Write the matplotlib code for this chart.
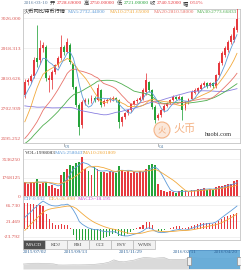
import matplotlib
matplotlib.use('Agg')
import matplotlib.pyplot as plt
import matplotlib.transforms as mtransforms
from matplotlib.patches import Rectangle, Ellipse
import numpy as np
import pandas as pd

# daily candles, 2016-02-17 .. 2016-04-27
opens = [2750, 2796, 2800, 2818, 2882, 2875, 2918, 2922, 2804, 2804,
         2832, 2857, 2882, 2922, 2904, 2929, 2861, 2778, 2714, 2642,
         2724, 2732, 2728.69, 2740, 2732, 2768, 2717, 2728, 2732, 2735,
         2739, 2732, 2653, 2670, 2685, 2696, 2717, 2728, 2732, 2735,
         2760, 2796, 2768, 2707, 2667, 2678, 2696, 2710, 2721, 2732,
         2742, 2735, 2742, 2703, 2724, 2735, 2757, 2764, 2771, 2786,
         2793, 2782, 2793, 2782, 2821, 2864, 2893, 2911, 2940, 2947, 2983]
highs = [2808, 2812, 2825, 2885, 3000, 2947, 2940, 2930, 2820, 2838,
         2862, 2890, 2965, 2930, 2955, 2935, 2865, 2782, 2720, 2730,
         2740, 2738, 2750, 2746, 2790, 2772, 2735, 2738, 2742, 2745,
         2744, 2736, 2676, 2690, 2700, 2722, 2733, 2738, 2745, 2775,
         2828, 2800, 2772, 2712, 2684, 2700, 2716, 2726, 2737, 2748,
         2747, 2748, 2746, 2728, 2740, 2766, 2774, 2780, 2792, 2800,
         2798, 2798, 2797, 2826, 2870, 2906, 2925, 2948, 2968, 2997, 3062]
lows = [2738, 2785, 2792, 2812, 2850, 2862, 2905, 2800, 2760, 2770,
        2825, 2850, 2875, 2895, 2900, 2860, 2770, 2705, 2606, 2630,
        2715, 2718, 2721, 2725, 2728, 2705, 2710, 2722, 2726, 2728,
        2725, 2631, 2640, 2662, 2678, 2690, 2712, 2722, 2727, 2730,
        2750, 2760, 2700, 2649, 2660, 2672, 2690, 2705, 2716, 2727,
        2730, 2730, 2660, 2695, 2718, 2730, 2752, 2758, 2766, 2780,
        2776, 2777, 2776, 2776, 2815, 2858, 2886, 2904, 2933, 2940, 2975]
closes = [2796, 2804, 2818, 2875, 2868, 2918, 2929, 2811, 2811, 2832,
          2857, 2882, 2922, 2904, 2940, 2868, 2778, 2714, 2635, 2724,
          2732, 2725, 2740.52, 2732, 2775, 2714, 2728, 2732, 2735, 2739,
          2732, 2653, 2670, 2685, 2696, 2717, 2728, 2732, 2739, 2768,
          2803, 2768, 2707, 2660, 2678, 2696, 2710, 2721, 2732, 2742,
          2735, 2742, 2696, 2724, 2735, 2760, 2768, 2774, 2786, 2793,
          2782, 2793, 2782, 2821, 2864, 2900, 2918, 2940, 2961, 2990, 3022]
volumes = [1300000, 1200000, 1350000, 1300000, 1600000, 1200000, 1250000, 1350000, 1000000, 1100000,
           750000, 650000, 2000000, 2300000, 2600000, 3000000, 2900000, 3200000, 3300000, 3750000,
           2600000, 2400000, 1998083, 2800000, 2550000, 2300000, 2350000, 2200000, 2450000, 2300000,
           2250000, 2900000, 2500000, 2300000, 2400000, 2200000, 2350000, 2250000, 2450000, 2300000,
           2600000, 3000000, 3100000, 2950000, 1200000, 550000, 450000, 350000, 500000, 400000,
           300000, 450000, 600000, 500000, 400000, 550000, 600000, 700000, 650000, 800000,
           550000, 700000, 600000, 850000, 1000000, 950000, 1100000, 1200000, 1150000, 1400000, 1550000]
# closes of the 60 days before the first candle, only used for the moving averages
pre_closes = [2880, 2900, 2870, 2930, 2950, 2920, 2890, 2860, 2900, 2880,
              2850, 2870, 2900, 2910, 2880, 2860, 2890, 2920, 2900, 2880,
              2870, 2850, 2860, 2880, 2870, 2850, 2820, 2720, 2600, 2560,
              2540, 2560, 2530, 2500, 2520, 2560, 2580, 2550, 2530, 2520,
              2540, 2550, 2530, 2560, 2540, 2510, 2500, 2520, 2550, 2545,
              2530, 2540, 2545, 2530, 2545, 2650, 2700, 2720, 2740, 2770]

month_pos = [13, 44]
month_labels = ['03', '04']
price_ticks = [2595.252, 2702.939, 2810.626, 2918.313, 3026.000]
vol_ticks = [0, 1768125, 3536250]
macd_ticks = [-23.792, 21.469, 66.730]
tab_names = ['MACD', 'KDJ', 'RSI', 'CCI', 'PSY', 'WMS']

# navigator: weekly closes 2015-07-02 .. 2016-04-28
nav_close = [1650, 1730, 1790, 1800, 1770, 1740, 1690, 1480, 1460,
             1480, 1500, 1490, 1510, 1530, 1570, 1680, 1790, 2000,
             2450, 2150, 2080, 2250, 2400, 2700, 2900, 2860, 2760,
             2850, 2880, 2500, 2540, 2540, 2550, 2820, 2860,
             2770, 2740, 2720, 2730, 2720, 2740, 2760, 2830, 2960]
nav_label_days = [0, 73, 150, 224, 298]
nav_labels = ['2015/07/02', '2015/09/13', '2015/11/29', '2016/02/11', '2016/04/20']

RED = '#e63a3f'
GREEN = '#25a33a'
C_MA5 = '#5e9bd8'
C_MA10 = '#f2a93b'
C_MA20 = '#e8736a'
C_MA30 = '#4fae4f'
C_MA60 = '#8a80e0'
LBL = '#d9534f'

plt.rcParams['font.family'] = ['Liberation Serif', 'Noto Sans CJK SC', 'DejaVu Sans']

W, H = 241, 270
fig = plt.figure(figsize=(W / 100, H / 100), dpi=100)


def box(x0, y0, x1, y1):
    return [x0 / W, 1 - y1 / H, (x1 - x0) / W, (y1 - y0) / H]


def style(ax, ticks, labels, ylim):
    ax.set_xlim(-0.6, 71.0)
    ax.set_ylim(*ylim)
    ax.set_yticks(ticks)
    ax.set_yticklabels(labels, color=LBL, fontsize=3.9)
    ax.tick_params(axis='y', length=0, pad=1.5)
    ax.set_xticks([])
    for s in ax.spines.values():
        s.set_color('#c4c4c4')
        s.set_linewidth(0.6)
    ax.grid(axis='y', color='#ececec', lw=0.5)
    ax.set_axisbelow(True)


o = np.array(opens, dtype=float)
c = np.array(closes, dtype=float)
hi = np.array(highs, dtype=float)
lo = np.array(lows, dtype=float)
v = np.array(volumes, dtype=float)
x = np.arange(len(c))
col = np.where(c >= o, RED, GREEN)

full = pd.Series(pre_closes + closes, dtype=float)
n0 = len(pre_closes)

# ---- price panel
ax_p = fig.add_axes(box(23, 9, 240, 143))
style(ax_p, price_ticks, ['%.3f' % t for t in price_ticks], (2577.4, 3058.3))
ax_p.vlines(x, lo, hi, colors=col, lw=0.55, zorder=3)
body = np.maximum(np.abs(c - o), 2.0)
ax_p.bar(x, body, bottom=np.minimum(o, c), width=0.62, color=col, lw=0, zorder=4)
for n, cc in [(60, C_MA60), (30, C_MA30), (20, C_MA20), (10, C_MA10), (5, C_MA5)]:
    ma = full.rolling(n).mean().iloc[n0:].values
    ax_p.plot(x, ma, color=cc, lw=0.6, zorder=5)

bl = mtransforms.blended_transform_factory(ax_p.transData, ax_p.transAxes)
for pos, lab in zip(month_pos, month_labels):
    ax_p.plot([pos, pos], [0, -0.02], transform=bl, color='#999999', lw=0.5, clip_on=False)
    ax_p.text(pos + 0.3, -0.012, lab, transform=bl, fontsize=3.8, va='top', ha='left', color='#6a8fb0')

# watermark
fig.add_artist(Ellipse((162 / W, 1 - 130 / H), 16 / W, 16 / H, transform=fig.transFigure,
                       facecolor='#fbe3d2', edgecolor='#f2a46e', lw=0.8, alpha=0.8, zorder=6))
fig.text(162 / W, 1 - 130 / H, '火', fontsize=6, color='#f2a46e', ha='center', va='center',
         alpha=0.9, zorder=7)
fig.text(173 / W, 1 - 129 / H, '火币', fontsize=8, color='#f2a46e', ha='left', va='center',
         alpha=0.85, zorder=7)
fig.text(205 / W, 1 - 135 / H, 'huobi.com', fontsize=4.6, color='#333333', ha='left', va='center',
         zorder=7)

# ---- volume panel
ax_v = fig.add_axes(box(23, 149, 240, 196))
style(ax_v, vol_ticks, [str(t) for t in vol_ticks], (0, 4.52e6))
ax_v.bar(x, v, width=0.62, color=col, lw=0, zorder=3)
vs = pd.Series(v)
ax_v.plot(x, vs.rolling(5, min_periods=1).mean(), color=C_MA5, lw=0.6, zorder=4)
ax_v.plot(x, vs.rolling(10, min_periods=1).mean(), color=C_MA10, lw=0.6, zorder=4)

# ---- macd panel
ax_m = fig.add_axes(box(23, 196, 240, 240))
style(ax_m, macd_ticks, ['%.3f' % t for t in macd_ticks], (-32.5, 93.0))
ema12 = full.ewm(span=12, adjust=False).mean()
ema26 = full.ewm(span=26, adjust=False).mean()
dif = ema12 - ema26
dea = dif.ewm(span=9, adjust=False).mean()
hist = (2 * (dif - dea)).iloc[n0:].values
ax_m.bar(x, hist, width=0.35, color=np.where(hist >= 0, RED, GREEN), lw=0, zorder=3)
ax_m.plot(x, dif.iloc[n0:].values, color=C_MA5, lw=0.6, zorder=4)
ax_m.plot(x, dea.iloc[n0:].values, color=C_MA10, lw=0.6, zorder=4)

# ---- header texts
r = fig.canvas.get_renderer()


def segments(x0, y0, parts, size, gap):
    xx = x0
    for s, cc in parts:
        t = fig.text(xx / W, 1 - y0 / H, s, color=cc, fontsize=size, va='center', ha='left', zorder=8)
        xx += t.get_window_extent(r).width + gap


segments(24, 3.5, [('2016-03-10', '#5f7f9f'), ('开', '#333333'), ('2728.69000', RED),
                   ('高', '#333333'), ('2750.00000', RED), ('低', '#333333'),
                   ('2721.00000', GREEN), ('收', '#333333'), ('2740.52000', RED),
                   ('幅', '#333333'), ('0.51%', RED)], 3.8, 1.5)

for xx, s, cc in [(24, '火币网比特币行情', '#333333'), (68, 'MA5:2732.44000', C_MA5),
                  (110, 'MA10:2741.65000', C_MA10), (154, 'MA20:2810.58000', C_MA20),
                  (197, 'MA30:2773.66833', C_MA30)]:
    fig.text(xx / W, 1 - 12 / H, s, color=cc, fontsize=3.8, va='center', ha='left', zorder=8)

for xx, s, cc in [(25, 'VOL:1998083', '#333333'), (55, 'MA5:2580437', C_MA5),
                  (83, 'MA10:2601809', C_MA10)]:
    fig.text(xx / W, 1 - 153.5 / H, s, color=cc, fontsize=3.8, va='center', ha='left', zorder=8)

for xx, s, cc in [(24, 'DIF:0.932', C_MA5), (49, 'DEA:26.898', C_MA10),
                  (78, 'MACD:-18.195', '#d447d4')]:
    fig.text(xx / W, 1 - 199 / H, s, color=cc, fontsize=3.8, va='center', ha='left', zorder=8)

# ---- indicator tabs
for k, name in enumerate(tab_names):
    x0 = 23 + 22 * k
    active = k == 0
    fig.add_artist(Rectangle((x0 / W, 1 - 249 / H), 22 / W, 9 / H, transform=fig.transFigure,
                             facecolor='#4f4f4f' if active else '#f2f2f2',
                             edgecolor='#b8b8b8', lw=0.5))
    fig.text((x0 + 11) / W, 1 - 244.5 / H, name, fontsize=3.9, ha='center', va='center',
             color='white' if active else '#444444')

# ---- navigator
ax_n = fig.add_axes(box(23, 250, 240, 269))
nav_x = np.arange(len(nav_close)) * 7
ax_n.fill_between(nav_x, nav_close, 700, color='#dadada', lw=0)
ax_n.plot(nav_x, nav_close, color='#c2c2c2', lw=0.5)
ax_n.set_xlim(0, 301)
ax_n.set_ylim(700, 4350)
ax_n.axis('off')
ax_n.add_patch(Rectangle((230, 0), 71, 1, transform=mtransforms.blended_transform_factory(
    ax_n.transData, ax_n.transAxes), facecolor='#5ea8d8', edgecolor='#3d86bf', lw=0.6,
    alpha=0.9, zorder=3))
for hx in [188.5, 239]:
    fig.add_artist(Rectangle(((hx - 2) / W, 1 - 265 / H), 4 / W, 8 / H, transform=fig.transFigure,
                             facecolor='#f0f0f0', edgecolor='#8f8f8f', lw=0.5, zorder=9))
for i, (d, s) in enumerate(zip(nav_label_days, nav_labels)):
    ha = 'left' if i == 0 else ('right' if i == len(nav_labels) - 1 else 'center')
    ax_n.text(d, 4000, s, fontsize=3.8, ha=ha, va='center', color='#30659a', zorder=5)

fig.savefig('out.png', dpi=100)
